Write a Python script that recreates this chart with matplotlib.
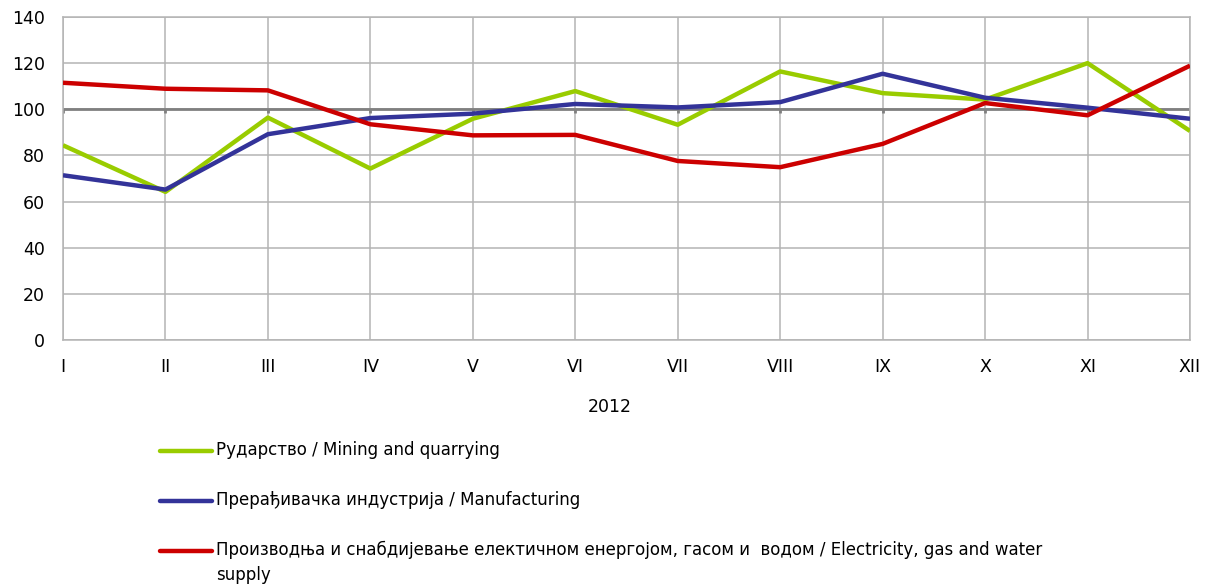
import numpy as np
import matplotlib
matplotlib.use("Agg")
import matplotlib.pyplot as plt
from matplotlib.lines import Line2D

months = ['I', 'II', 'III', 'IV', 'V', 'VI', 'VII', 'VIII', 'IX', 'X', 'XI', 'XII']
mining = [84.4, 64.2, 96.4, 74.3, 95.9, 107.9, 93.3, 116.4, 107.0, 104.2, 120.0, 90.6]
manufacturing = [71.4, 65.2, 89.2, 96.2, 98.1, 102.3, 100.8, 103.1, 115.4, 105.0, 100.7, 95.9]
electricity = [111.5, 108.9, 108.2, 93.5, 88.7, 88.9, 77.6, 74.9, 85.0, 102.7, 97.4, 118.9]

labels = ['Рударство / Mining and quarrying',
          'Прерађивачка индустрија / Manufacturing',
          'Производња и снабдијевање електичном енергојом, гасом и  водом / Electricity, gas and water\nsupply']
colors = ['#99CC00', '#333399', '#CC0000']

plt.rcParams['font.family'] = ['DejaVu Sans']

fig = plt.figure(figsize=(12.1, 5.87), dpi=100)
W, H = 1210, 587
ax = fig.add_axes([63 / W, 1 - 340 / H, (1190 - 63) / W, (340 - 17) / H])

x = np.arange(len(months))
ax.set_xlim(0, len(months) - 1)
ax.set_ylim(0, 140)
ax.set_yticks(np.arange(0, 141, 20))
ax.set_xticks(x)
ax.set_xticklabels(months)

ax.grid(True, color='#B4B4B4', linewidth=1.1)
ax.set_axisbelow(True)
for s in ax.spines.values():
    s.set_color('#B4B4B4')
    s.set_linewidth(1.1)
ax.tick_params(length=0, labelsize=12.5, colors='black')
ax.tick_params(axis='y', pad=13)
ax.tick_params(axis='x', pad=13)

# category axis crosses at 100
ax.axhline(100, color='#808080', linewidth=2, zorder=2)
ax.vlines(x, 98.2, 100, color='#808080', linewidth=2, zorder=2)

series = [mining, manufacturing, electricity]
for vals, c in zip(series, colors):
    ax.plot(x, vals, color=c, linewidth=3.2, zorder=3, solid_capstyle='butt')

fig.text(610 / W, 1 - 407 / H, '2012', ha='center', va='center', fontsize=12.5)

# legend
ys = [451, 501, 551]
for y, lab, c in zip(ys, labels, colors):
    fig.add_artist(Line2D([160 / W, 212 / W], [1 - y / H, 1 - y / H],
                          color=c, linewidth=3.2, solid_capstyle='round'))
    fig.text(216 / W, 1 - (y - 10) / H, lab, ha='left', va='top', fontsize=12,
             linespacing=1.5)

fig.savefig('out.png', dpi=100)
